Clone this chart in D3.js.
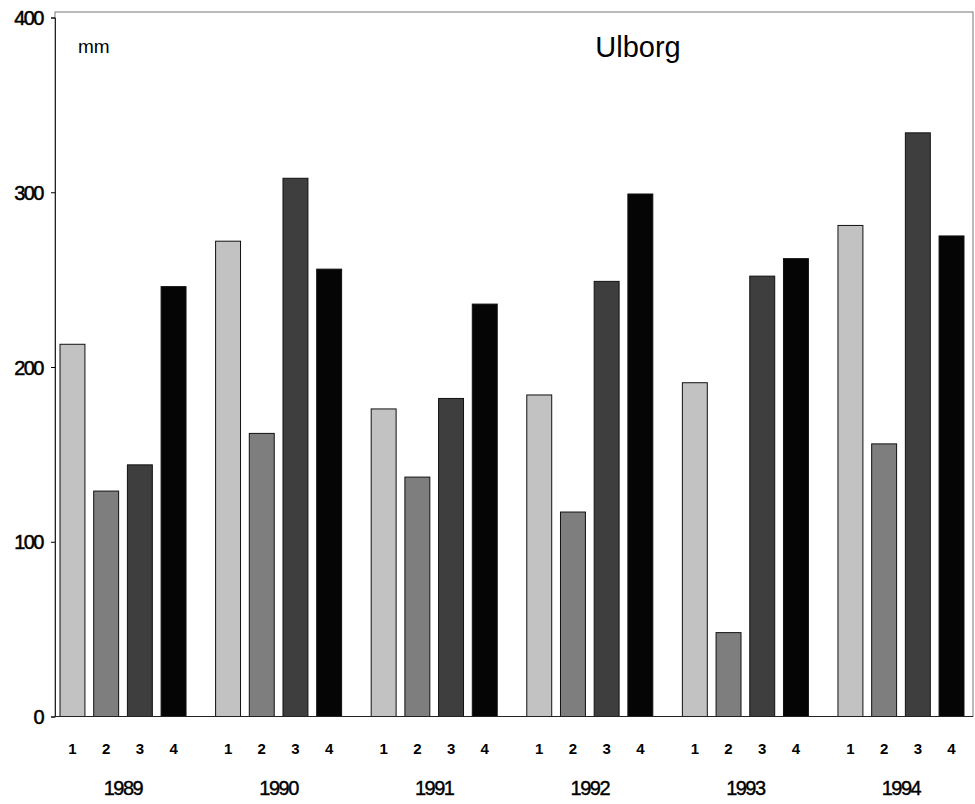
<!DOCTYPE html>
<html>
<head>
<meta charset="utf-8">
<script src="https://cdn.jsdelivr.net/npm/d3@7"></script>
<style>
  body { margin: 0; background: #fff; }
  text { font-family: "Liberation Sans", Arial, sans-serif; fill: #000; }
</style>
</head>
<body>
<svg id="chart" width="975" height="804"></svg>
<script>
var years = ["1989", "1990", "1991", "1992", "1993", "1994"];
var quarters = ["1", "2", "3", "4"];
var q1 = [213, 272, 176, 184, 191, 281];
var q2 = [129, 162, 137, 117, 48, 156];
var q3 = [144, 308, 182, 249, 252, 334];
var q4 = [246, 256, 236, 299, 262, 275];
var yTicks = [0, 100, 200, 300, 400];
var title = "Ulborg";
var unit = "mm";

var series = [q1, q2, q3, q4];
var data = years.map(function (yr, i) {
    return {
        year: yr,
        values: quarters.map(function (q, j) {
            return {q: q, value: series[j][i]};
        })
    };
});

var svg = d3.select("#chart");
var plotLeft = 55, plotRight = 973, plotTop = 12, plotBottom = 716.5;

var x0 = d3.scaleBand()
    .domain(years)
    .range([60, 964])
    .paddingInner(0.19)
    .paddingOuter(0);

var x1 = d3.scaleBand()
    .domain(quarters)
    .range([0, x0.bandwidth()])
    .paddingInner(0.26)
    .paddingOuter(0);

var y = d3.scaleLinear()
    .domain([0, 400])
    .range([plotBottom, 17.5]);

var color = d3.scaleOrdinal()
    .domain(quarters)
    .range(["#c2c2c2", "#7e7e7e", "#3e3e3e", "#050505"]);

// frame
svg.append("rect")
    .attr("x", plotLeft)
    .attr("y", plotTop)
    .attr("width", plotRight - plotLeft)
    .attr("height", plotBottom - plotTop)
    .attr("fill", "none")
    .attr("stroke", "#777")
    .attr("stroke-width", 1);

var g = svg.selectAll(".year")
    .data(data)
    .enter().append("g")
    .attr("class", "year")
    .attr("transform", function (d) {
        return "translate(" + x0(d.year) + ",0)";
    });

g.selectAll("rect")
    .data(function (d) { return d.values; })
    .enter().append("rect")
    .attr("x", function (d) { return x1(d.q); })
    .attr("y", function (d) { return y(d.value); })
    .attr("width", x1.bandwidth())
    .attr("height", function (d) { return y(0) - y(d.value); })
    .attr("fill", function (d) { return color(d.q); })
    .attr("stroke", "#111")
    .attr("stroke-width", 1);

// quarter labels
g.selectAll(".qlab")
    .data(function (d) { return d.values; })
    .enter().append("text")
    .attr("class", "qlab")
    .attr("x", function (d) { return x1(d.q) + x1.bandwidth() / 2; })
    .attr("y", 754)
    .attr("text-anchor", "middle")
    .style("font-size", "15px")
    .style("font-weight", "bold")
    .text(function (d) { return d.q; });

// year labels
g.append("text")
    .attr("x", x0.bandwidth() / 2)
    .attr("y", 795)
    .attr("text-anchor", "middle")
    .style("font-size", "20px")
    .style("letter-spacing", "-1.5px")
    .style("stroke", "#000")
    .style("stroke-width", "0.4px")
    .text(function (d) { return d.year; });

// baseline
svg.append("line")
    .attr("x1", plotLeft).attr("x2", plotRight)
    .attr("y1", plotBottom).attr("y2", plotBottom)
    .attr("stroke", "#222");

// y axis
var yAxis = svg.append("g")
    .attr("transform", "translate(" + plotLeft + ",0)")
    .call(d3.axisLeft(y).tickValues(yTicks).tickSize(4).tickPadding(8));
yAxis.select(".domain").attr("stroke", "#222");
yAxis.selectAll("text")
    .attr("dy", "0.36em")
    .style("font-size", "20px")
    .style("letter-spacing", "-1.5px")
    .style("stroke", "#000")
    .style("stroke-width", "0.5px")
    .style("font-family", "\"Liberation Sans\", Arial, sans-serif");

svg.append("text")
    .attr("x", 78)
    .attr("y", 53)
    .style("font-size", "19px")
    .text(unit);

svg.append("text")
    .attr("x", 638)
    .attr("y", 57)
    .attr("text-anchor", "middle")
    .style("font-size", "29px")
    .text(title);
</script>
</body>
</html>
